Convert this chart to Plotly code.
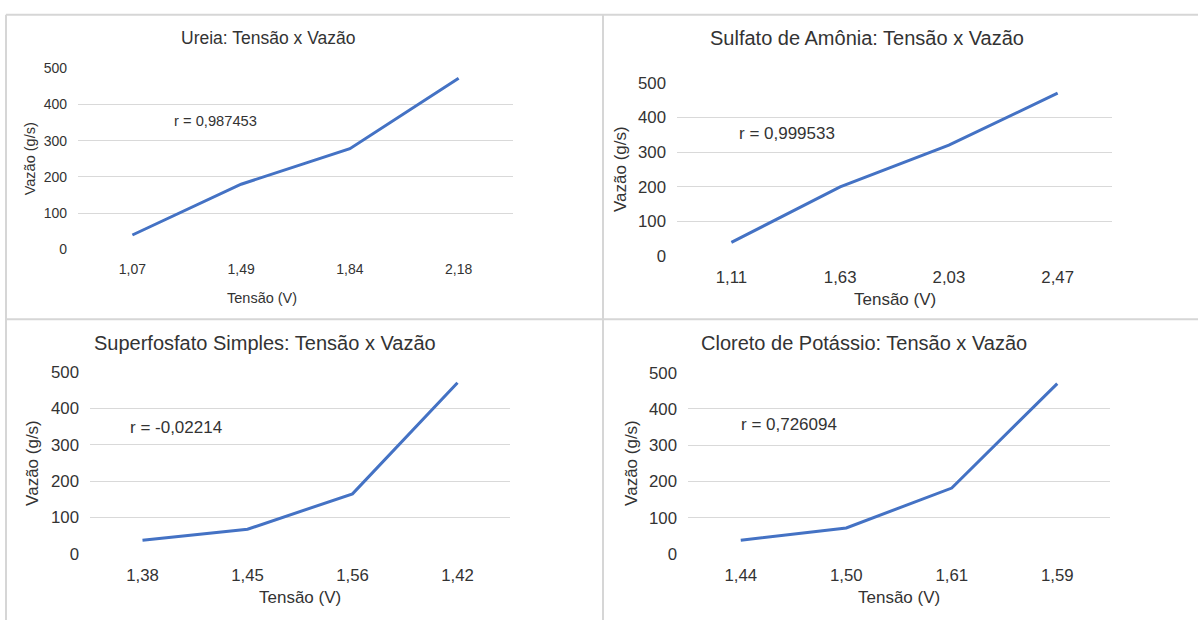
import plotly.graph_objects as go

W, H = 1198, 630

# ---- data ----
titles = ["Ureia: Tensão x Vazão", "Sulfato de Amônia: Tensão x Vazão",
          "Superfosfato Simples: Tensão x Vazão", "Cloreto de Potássio: Tensão x Vazão"]
ureia_x = ["1,07", "1,49", "1,84", "2,18"]
ureia_y = [40, 180, 278, 472]
sulfato_x = ["1,11", "1,63", "2,03", "2,47"]
sulfato_y = [40, 200, 320, 470]
superfosfato_x = ["1,38", "1,45", "1,56", "1,42"]
superfosfato_y = [38, 68, 165, 470]
cloreto_x = ["1,44", "1,50", "1,61", "1,59"]
cloreto_y = [38, 72, 182, 470]
r_labels = ["r = 0,987453", "r = 0,999533", "r = -0,02214", "r = 0,726094"]
y_ticks = [0, 100, 200, 300, 400, 500]
x_title = "Tensão (V)"
y_title = "Vazão (g/s)"

series = [(ureia_x, ureia_y), (sulfato_x, sulfato_y),
          (superfosfato_x, superfosfato_y), (cloreto_x, cloreto_y)]

# ---- layout (pixel boxes: left, right, top, bottom) ----
boxes = [(78, 513, 61, 248), (677, 1112, 76, 255), (90, 510, 374, 562), (688, 1110, 375, 562)]
tick_sizes = [14, 16.8, 16.8, 16.8]
title_sizes = [17.5, 20, 20, 20]
label_sizes = [14.5, 17, 17, 17]
r_sizes = [14.7, 17, 17, 17]
title_pos = [(268, 30), (867, 30), (265, 344), (864, 344)]
r_pos = [(172, 115), (737, 128), (128, 431), (739, 428)]
ytitle_pos = [(30, 155), (620, 165), (33, 468), (632, 468)]
xtitle_pos = [(262, 298), (895, 300), (300, 607), (899, 607)]

FONT = "Liberation Sans, Arial, sans-serif"
TXT = "#333333"
GRID = "#d9d9d9"

def px(x):
    return x / W

def py(y):
    return 1 - y / H

fig = go.Figure()
layout = dict(width=W, height=H, margin=dict(l=0, r=0, t=0, b=0),
              paper_bgcolor="white", plot_bgcolor="white", showlegend=False,
              font=dict(family=FONT, color=TXT))
annotations = []
for i, ((xs, ys), (l, r, t, b)) in enumerate(zip(series, boxes)):
    n = "" if i == 0 else str(i + 1)
    fig.add_trace(go.Scatter(x=xs, y=ys, mode="lines", xaxis="x" + n, yaxis="y" + n,
                             line=dict(color="#4472C4", width=3), hoverinfo="skip"))
    layout["xaxis" + n] = dict(domain=[px(l), px(r)], anchor="y" + n, type="category",
                               range=[-0.5, len(xs) - 0.5], showgrid=False, zeroline=False,
                               showline=False, ticks="", ticklabelstandoff=9,
                               tickfont=dict(size=tick_sizes[i], color=TXT))
    layout["yaxis" + n] = dict(domain=[py(b), py(t)], anchor="x" + n, range=[0, 500],
                               tickvals=y_ticks, showgrid=True, gridcolor=GRID, gridwidth=1.3,
                               zeroline=False, showline=False, ticks="", ticklabelstandoff=10,
                               tickfont=dict(size=tick_sizes[i], color=TXT))
    annotations.append(dict(text=titles[i], x=px(title_pos[i][0]), y=py(title_pos[i][1]),
                            xref="paper", yref="paper", showarrow=False, xanchor="center",
                            yanchor="middle", font=dict(size=title_sizes[i], color=TXT)))
    annotations.append(dict(text=r_labels[i], x=px(r_pos[i][0]), y=py(r_pos[i][1]),
                            xref="paper", yref="paper", showarrow=False, xanchor="left",
                            yanchor="middle", font=dict(size=r_sizes[i], color=TXT)))
    annotations.append(dict(text=y_title, x=px(ytitle_pos[i][0]), y=py(ytitle_pos[i][1]),
                            xref="paper", yref="paper", showarrow=False, textangle=-90,
                            xanchor="center", yanchor="middle",
                            font=dict(size=label_sizes[i], color=TXT)))
    annotations.append(dict(text=x_title, x=px(xtitle_pos[i][0]), y=py(xtitle_pos[i][1]),
                            xref="paper", yref="paper", showarrow=False, xanchor="center",
                            yanchor="middle", font=dict(size=label_sizes[i], color=TXT)))

line_style = dict(color="#d6d6d6", width=2)
shapes = [
    dict(type="line", xref="paper", yref="paper", x0=px(6), x1=1, y0=py(6), y1=py(6), line=line_style),
    dict(type="line", xref="paper", yref="paper", x0=px(6), x1=px(6), y0=0, y1=py(6), line=line_style),
    dict(type="line", xref="paper", yref="paper", x0=px(603), x1=px(603), y0=0, y1=py(6), line=line_style),
    dict(type="line", xref="paper", yref="paper", x0=px(6), x1=1, y0=py(320), y1=py(320), line=line_style),
]
layout["annotations"] = annotations
layout["shapes"] = shapes
fig.update_layout(**layout)
fig.write_html("out.html",
               post_script="document.body.style.margin='0';document.body.style.padding='0';"
                           "document.documentElement.style.overflow='hidden';")
